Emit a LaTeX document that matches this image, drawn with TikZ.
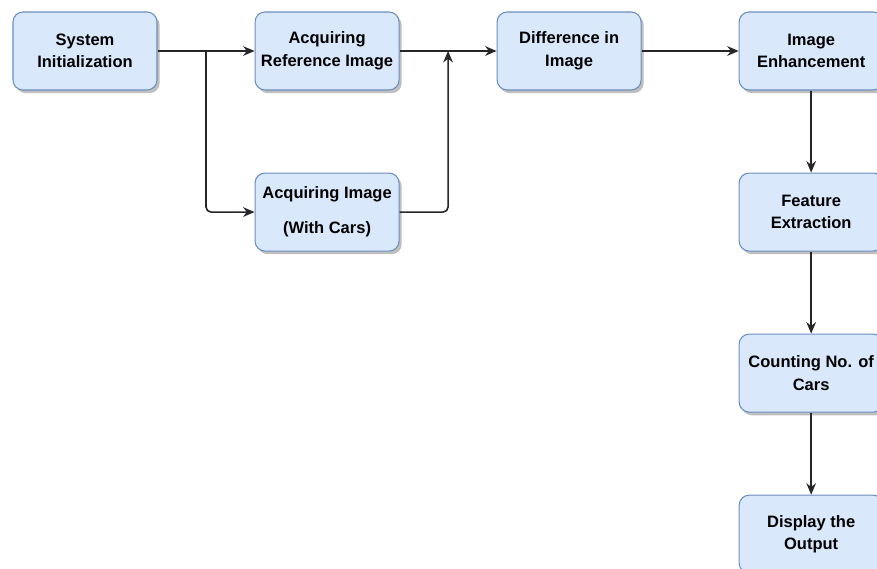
\documentclass[tikz,border=0pt]{standalone}
\usepackage{fontspec}
\setmainfont{Liberation Sans}
\usetikzlibrary{%
    arrows.meta,
    calc,
    positioning,
    shadows
}

\definecolor{boxfill}{HTML}{DAE8FC}
\definecolor{boxline}{HTML}{6C8EBF}
\definecolor{wire}{HTML}{262626}

\tikzset{
    stage/.style={draw=boxline, fill=boxfill, line width=0.6pt,
                  rounded corners=0.2cm, align=center,
                  minimum width=2.88cm, minimum height=1.56cm, inner sep=2pt,
                  font=\bfseries\fontsize{9.4}{12.8}\selectfont,
                  drop shadow={shadow xshift=1.5pt, shadow yshift=-1.8pt,
                               opacity=0.25, fill=black}},
    flowline/.style={draw=wire, line width=0.9pt, rounded corners=0.1cm,
                     -{Stealth[length=6.5pt, width=5.5pt]}}
}

\begin{document}
\begin{tikzpicture}
    \useasboundingbox (0,0) rectangle (17.54,-11.38);

    \node[stage] (sysinit) at (1.70,-1.02) {System\\Initialization};
    \node[stage, right=1.94cm of sysinit] (acqref) {Acquiring\\Reference Image};
    \node[stage, right=1.94cm of acqref] (diff) {Difference in\\Image};
    \node[stage, right=1.94cm of diff] (enhance) {Image\\Enhancement};
    \node[stage, below=1.64cm of acqref] (acqcars) {Acquiring Image\\[7pt](With Cars)};
    \node[stage, below=1.64cm of enhance] (feature) {Feature\\Extraction};
    \node[stage, below=1.64cm of feature] (count) {Counting No. of\\Cars};
    \node[stage, below=1.64cm of count] (display) {Display the\\Output};

    \coordinate (split) at ($(sysinit.east)!0.5!(acqref.west)$);
    \coordinate (join)  at ($(acqref.east)!0.5!(diff.west)$);

    \draw[flowline] (split) |- (acqcars);
    \draw[flowline] (acqcars) -| (join);

    \foreach \Source/\Target in {%
        sysinit/acqref,
        acqref/diff,
        diff/enhance,
        enhance/feature,
        feature/count,
        count/display%
        }
        \draw[flowline] (\Source) to (\Target);
\end{tikzpicture}
\end{document}
